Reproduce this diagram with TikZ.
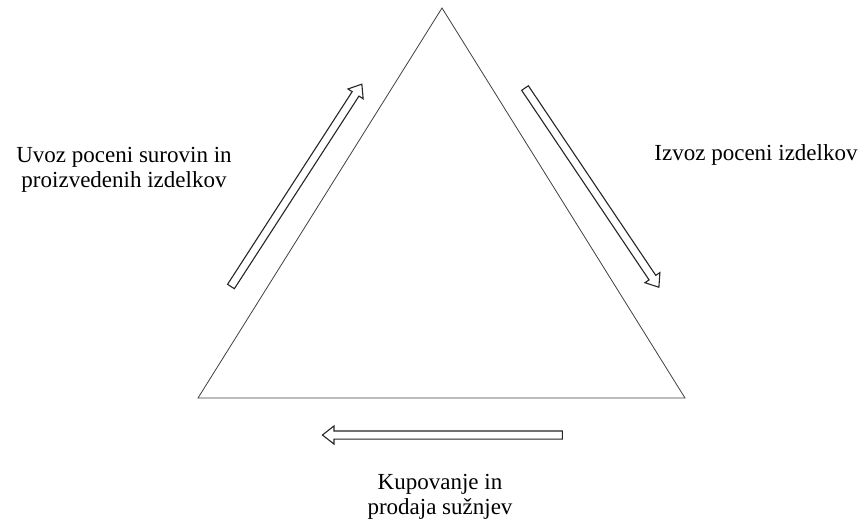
\documentclass[tikz,border=0pt]{standalone}
\usepackage{fontspec}
\setmainfont{Liberation Serif}
\usetikzlibrary{shapes.arrows}
\tikzset{
  edge/.style={draw=black!75, line width=0.8pt, line join=miter},
  blockarrow/.style={single arrow, draw=black!85, fill=white, line width=1.1pt,
    inner sep=0pt, inner ysep=3.5pt, single arrow head extend=5pt,
    single arrow tip angle=76, minimum width=17pt, shape border uses incircle=false},
  lbl/.style={align=center, inner sep=0pt, font=\fontsize{23}{25.5}\selectfont}
}
\begin{document}
\begin{tikzpicture}[x=1pt,y=-1pt]
\useasboundingbox (0,0) rectangle (867,524);
\coordinate (A) at (442,8);
\coordinate (B) at (198,398);
\coordinate (C) at (685,398);
\draw[edge] (A) -- (B) -- (C) -- cycle;
\node[blockarrow, minimum height=241pt, rotate=57.1] (up) at (295,187.5) {};
\node[blockarrow, minimum height=240pt, rotate=-56.1] (down) at (590.5,185.5) {};
\node[blockarrow, minimum height=240pt, rotate=180] (left) at (445,435) {};
\node[lbl] (l1) at (124,170) {Uvoz poceni surovin in\\proizvedenih izdelkov};
\node[lbl] (l2) at (756,155) {Izvoz poceni izdelkov};
\node[lbl] (l3) at (440,497) {Kupovanje in\\prodaja sužnjev};
\end{tikzpicture}
\end{document}
